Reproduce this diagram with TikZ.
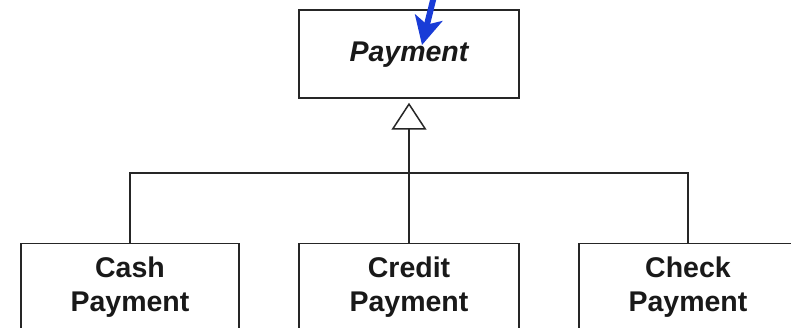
\documentclass[tikz,border=0pt]{standalone}
\usepackage{fontspec}
\setmainfont{Liberation Sans}
\usetikzlibrary{arrows.meta}
\begin{document}
\begin{tikzpicture}[x=1pt,y=-1pt,
  classbox/.style={draw=black!85, line width=1.5pt, rectangle, inner sep=0pt},
  lbl/.style={font=\fontsize{28.5}{33.5}\selectfont\bfseries, align=center, inner sep=0pt, text=black!90},
  conn/.style={draw=black!85, line width=1.5pt},
  inherit/.style={conn, -{Triangle[open, length=27pt, width=35pt, line width=1.5pt]}, shorten >=4pt},
  pointer/.style={draw={rgb,255:red,25;green,60;blue,215}, line width=6pt, -{Stealth[length=28pt, width=28pt, inset=7pt]}}
]
\useasboundingbox (0,0) rectangle (791,328);
\fill[white] (0,0) rectangle (791,328);
\clip (0,0) rectangle (791,328);
% Parent class
\node[classbox, minimum width=220pt, minimum height=88pt] (payment) at (409,54) {};
\node[lbl, font=\fontsize{28.5}{33.5}\selectfont\bfseries\itshape] (paytext) at (409,55) {Payment};
% Subclasses
\node[classbox, anchor=north, minimum width=218pt, minimum height=140pt] (cash) at (130,243) {};
\node[lbl, anchor=north] (cashtext) at ([yshift=-14pt]cash.north) {Cash\\Payment};
\node[classbox, anchor=north, minimum width=220pt, minimum height=140pt] (credit) at (409,243) {};
\node[lbl, anchor=north] (credittext) at ([yshift=-14pt]credit.north) {Credit\\Payment};
\node[classbox, anchor=north, minimum width=218pt, minimum height=140pt] (check) at (688,243) {};
\node[lbl, anchor=north] (checktext) at ([yshift=-14pt]check.north) {Check\\Payment};
% Generalisation tree
\coordinate (junction) at (409,173);
\draw[conn] (cash.north) |- (junction);
\draw[conn] (check.north) |- (junction);
\draw[conn] (credit.north) -- (junction);
\draw[inherit] (junction) -- (payment.south);
% Blue pointer arrow
\coordinate (ptrstart) at (436,-12);
\coordinate (ptrtip) at (422,45);
\draw[pointer] (ptrstart) -- (ptrtip);
\end{tikzpicture}
\end{document}
